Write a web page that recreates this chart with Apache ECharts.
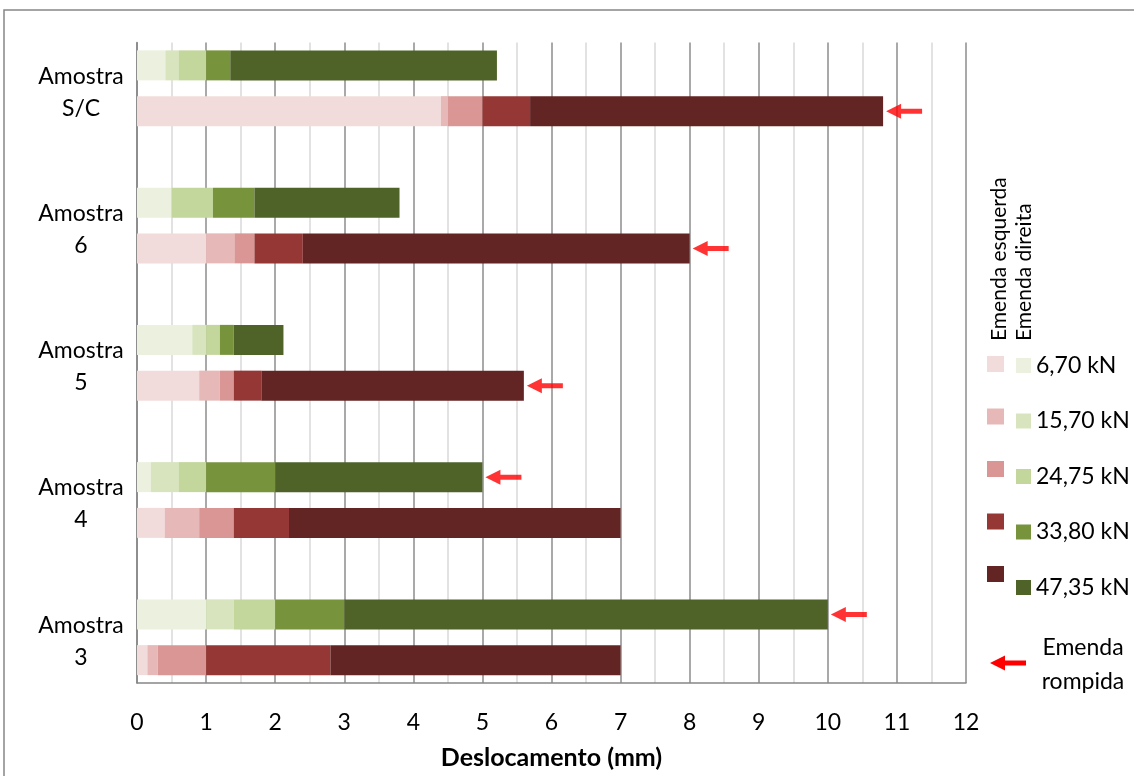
<!DOCTYPE html>
<html>
<head>
<meta charset="utf-8">
<script src="https://cdn.jsdelivr.net/npm/echarts@6/dist/echarts.min.js"></script>
<style>
html,body{margin:0;padding:0;background:#fff;}
#chart{width:1134px;height:776px;}
</style>
</head>
<body>
<div id="chart"></div>
<script>
// Samples, bottom to top
const samples = ['Amostra\n3', 'Amostra\n4', 'Amostra\n5', 'Amostra\n6', 'Amostra\nS/C'];
const loads = ['6,70 kN', '15,70 kN', '24,75 kN', '33,80 kN', '47,35 kN'];
const xTicks = [0, 1, 2, 3, 4, 5, 6, 7, 8, 9, 10, 11, 12];

// Displacement increments (mm) per load step, order: Amostra 3, 4, 5, 6, S/C
// Emenda esquerda
const esq_670  = [0.15, 0.40, 0.90, 1.00, 4.40];
const esq_1570 = [0.15, 0.50, 0.30, 0.41, 0.10];
const esq_2475 = [0.70, 0.50, 0.20, 0.29, 0.50];
const esq_3380 = [1.80, 0.80, 0.40, 0.70, 0.69];
const esq_4735 = [4.20, 4.80, 3.80, 5.60, 5.11];
// Emenda direita
const dir_670  = [1.00, 0.20, 0.80, 0.50, 0.41];
const dir_1570 = [0.40, 0.40, 0.20, 0.00, 0.19];
const dir_2475 = [0.60, 0.40, 0.20, 0.60, 0.40];
const dir_3380 = [1.00, 1.00, 0.20, 0.60, 0.35];
const dir_4735 = [7.00, 3.00, 0.72, 2.10, 3.86];
// Which splice broke
const rompida = ['direita', 'direita', 'esquerda', 'esquerda', 'esquerda'];

const esqColors = ['#f2dcdb', '#e6b9b8', '#d99694', '#953735', '#632523'];
const dirColors = ['#ebf1de', '#d7e4bd', '#c3d69b', '#77933c', '#4f6228'];

const esqSets = [esq_670, esq_1570, esq_2475, esq_3380, esq_4735];
const dirSets = [dir_670, dir_1570, dir_2475, dir_3380, dir_4735];

// rows: per sample esquerda row, direita row, then a blank spacer row
const rows = [];
const rowLabel = {};
samples.forEach((s, i) => {
  rowLabel[rows.length] = s;
  rows.push('esq' + i);
  rows.push('dir' + i);
  if (i < samples.length - 1) rows.push('gap' + i);
});
const esqRow = i => i * 3;
const dirRow = i => i * 3 + 1;

function buildRowData(set, rowFn) {
  const d = rows.map(() => '-');
  set.forEach((v, i) => { d[rowFn(i)] = v; });
  return d;
}

const series = [];
loads.forEach((l, k) => {
  series.push({
    name: l + ' (esquerda)', type: 'bar', stack: 'total', barWidth: 30,
    itemStyle: { color: esqColors[k] }, silent: true,
    data: buildRowData(esqSets[k], esqRow)
  });
});
loads.forEach((l, k) => {
  series.push({
    name: l, type: 'bar', stack: 'total', barWidth: 30,
    itemStyle: { color: dirColors[k] }, silent: true,
    data: buildRowData(dirSets[k], dirRow)
  });
});

const sum = (sets, i) => sets.reduce((a, s) => a + s[i], 0);
const arrowPath = 'path://M0,7.5 L15,0 L15,5 L36,5 L36,10 L15,10 L15,15 Z';
const arrowData = samples.map((s, i) => rompida[i] === 'esquerda'
  ? [sum(esqSets, i), esqRow(i)]
  : [sum(dirSets, i), dirRow(i)]);
series.push({
  name: 'Emenda rompida', type: 'scatter', symbol: arrowPath, symbolSize: [36, 15],
  symbolOffset: [21, 0], itemStyle: { color: '#ff0000' }, z: 5, silent: true,
  data: arrowData
});

const chart = echarts.init(document.getElementById('chart'));
chart.setOption({
  animation: false,
  textStyle: { fontFamily: 'Lato', color: '#000' },
  grid: { left: 137, right: 168, top: 42.5, bottom: 93, containLabel: false },
  xAxis: {
    type: 'value', min: xTicks[0], max: xTicks[xTicks.length - 1], interval: 1,
    name: 'Deslocamento (mm)', nameLocation: 'middle', nameGap: 62,
    nameTextStyle: { fontSize: 25, fontWeight: 'bold', color: '#000', fontFamily: 'Lato' },
    axisLine: { show: true, lineStyle: { color: '#868686', width: 1.5 } },
    axisTick: { show: false },
    axisLabel: { fontSize: 23, margin: 28, color: '#000', fontFamily: 'Lato' },
    splitLine: { show: true, lineStyle: { color: '#8c8c8c', width: 1.5 } },
    minorTick: { show: false, splitNumber: 2 },
    minorSplitLine: { show: true, lineStyle: { color: '#d9d9d9', width: 1.5 } }
  },
  yAxis: {
    type: 'category', data: rows,
    axisLine: { show: true, lineStyle: { color: '#868686', width: 1.5 } },
    axisTick: { show: false },
    splitLine: { show: false },
    axisLabel: {
      interval: 0, align: 'center', margin: 56, color: '#000', fontFamily: 'Lato',
      formatter: (v, idx) => {
        const s = rowLabel[idx];
        if (!s) return '';
        const parts = s.split('\n');
        return '{a|' + parts[0] + '}\n{a|' + parts[1] + '}\n{b| }';
      },
      rich: {
        a: { fontSize: 23, lineHeight: 32, fontFamily: 'Lato', color: '#000', align: 'center' },
        b: { fontSize: 10, lineHeight: 38, align: 'center' }
      }
    }
  },
  legend: [
    {
      data: series.slice(0, 5).map(s => s.name), orient: 'vertical', padding: 0,
      left: 987, top: 354, itemWidth: 17, itemHeight: 16, itemGap: 32.5,
      icon: 'rect', selectedMode: false, formatter: () => ' ',
      textStyle: { fontSize: 20, lineHeight: 20 }
    },
    {
      data: series.slice(5, 10).map(s => s.name), orient: 'vertical', padding: 0,
      left: 1016, top: 354, itemWidth: 15, itemHeight: 15, itemGap: 32.5,
      icon: 'rect', selectedMode: false,
      textStyle: { fontSize: 23, lineHeight: 20, color: '#000', fontFamily: 'Lato' }
    }
  ],
  graphic: [
    { type: 'rect', shape: { x: 4, y: 10, width: 1200, height: 900 }, silent: true,
      style: { fill: 'none', stroke: '#868686', lineWidth: 1.5 } },
    { type: 'text', x: 999, y: 341, rotation: Math.PI / 2, silent: true,
      style: { text: 'Emenda esquerda', fontSize: 21, fontFamily: 'Lato', fill: '#000',
               align: 'left', verticalAlign: 'middle' } },
    { type: 'text', x: 1024, y: 341, rotation: Math.PI / 2, silent: true,
      style: { text: 'Emenda direita', fontSize: 21, fontFamily: 'Lato', fill: '#000',
               align: 'left', verticalAlign: 'middle' } },
    { type: 'polygon', silent: true,
      shape: { points: [[990, 663], [1005, 655.5], [1005, 660.5], [1026, 660.5], [1026, 665.5], [1005, 665.5], [1005, 670.5]] },
      style: { fill: '#ff0000' } },
    { type: 'text', x: 1083, y: 665, silent: true,
      style: { text: 'Emenda\nrompida', fontSize: 23, lineHeight: 34, fontFamily: 'Lato', fill: '#000',
               align: 'center', verticalAlign: 'middle' } }
  ],
  series: series
});
</script>
</body>
</html>
